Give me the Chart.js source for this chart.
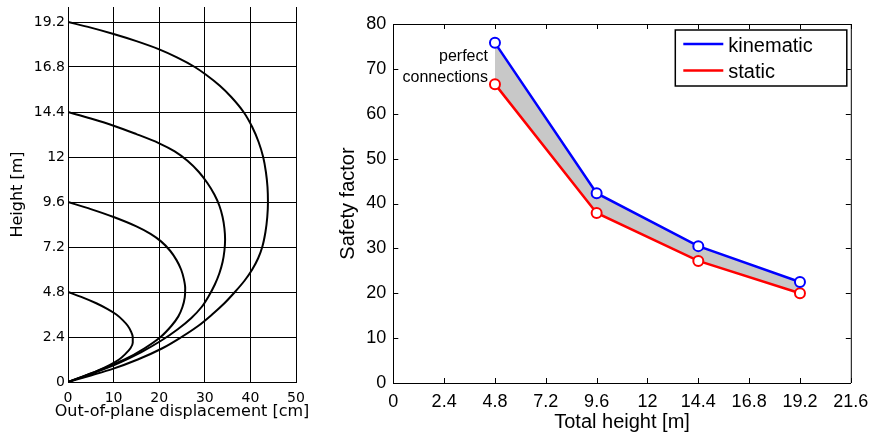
<!DOCTYPE html>
<html><head><meta charset="utf-8">
<script src="https://cdn.jsdelivr.net/npm/chart.js@4.4.0/dist/chart.umd.min.js"></script>
<style>
html,body{margin:0;padding:0;background:#fff;width:877px;height:439px;overflow:hidden}
#cl{position:absolute;left:0;top:0}
#cr{position:absolute;left:330px;top:0}
</style></head><body>
<canvas id="cl" width="330" height="439"></canvas>
<canvas id="cr" width="547" height="439"></canvas>
<script>
// ---------- Left panel data: deflection shapes (h = height m, x = out-of-plane displacement cm)
const curve48_h  = [4.8, 4.5, 4.2, 3.9, 3.6, 3.3, 3.0, 2.7, 2.4, 2.1, 1.8, 1.5, 1.2, 0.9, 0.6, 0.3, 0];
const curve48_x  = [0, 3.3, 6.2, 8.6, 10.6, 12.0, 13.1, 13.8, 14.2, 14.2, 13.7, 12.6, 11.2, 9.1, 6.5, 3.4, 0];
const curve96_h  = [9.6, 9.22, 8.8, 8.3, 7.9, 7.5, 7.0, 6.5, 6.0, 5.5, 5.0, 4.5, 4.0, 3.5, 3.0, 2.4, 1.8, 1.2, 0.6, 0];
const curve96_x  = [0, 5, 10, 15, 18.1, 20.4, 22.4, 23.8, 24.8, 25.4, 25.7, 25.6, 25.1, 24.2, 22.7, 20.3, 16.8, 12.4, 6.6, 0];
const curve144_h = [14.4, 14.05, 13.67, 13.22, 12.73, 12.3, 11.8, 11.2, 10.6, 10.0, 9.4, 8.8, 8.2, 7.6, 7.0, 6.4, 5.8, 5.2, 4.6, 4.0, 3.4, 2.8, 2.2, 1.6, 1.0, 0.5, 0];
const curve144_x = [0, 5, 10, 15, 20, 23.4, 26.2, 28.7, 30.6, 32.1, 33.2, 33.9, 34.3, 34.45, 34.3, 33.9, 33.2, 32.2, 30.9, 29.3, 27.0, 24.0, 20.4, 16.1, 11.0, 5.8, 0];
const curve192_h = [19.2, 18.9, 18.56, 18.18, 17.74, 17.3, 16.8, 16.4, 15.8, 15.2, 14.4, 13.6, 12.8, 12.0, 11.2, 10.4, 9.6, 8.8, 8.0, 7.2, 6.6, 6.0, 5.4, 4.8, 4.2, 3.6, 3.0, 2.4, 1.8, 1.2, 0.7, 0.35, 0];
const curve192_x = [0, 5, 10, 15, 20, 24, 27.8, 30.2, 33.3, 35.8, 38.5, 40.4, 41.8, 42.8, 43.4, 43.75, 43.85, 43.7, 43.3, 42.6, 41.7, 40.4, 38.7, 36.6, 34.3, 31.6, 28.6, 24.9, 20.7, 15.3, 9.8, 5, 0];
const leftXTicks = [0, 10, 20, 30, 40, 50];
const leftYTicks = [0, 2.4, 4.8, 7.2, 9.6, 12, 14.4, 16.8, 19.2];
const leftYLabels = ['0', '2.4', '4.8', '7.2', '9.6', '12', '14.4', '16.8', '19.2'];
const leftXTitle = 'Out-of-plane displacement [cm]';
const leftYTitle = 'Height [m]';

// ---------- Right panel data
const totalHeight = [4.8, 9.6, 14.4, 19.2];
const kinematic   = [75.8, 42.3, 30.5, 22.5];
const staticSF    = [66.6, 37.9, 27.2, 20.0];
const rightXTicks  = [0, 2.4, 4.8, 7.2, 9.6, 12, 14.4, 16.8, 19.2, 21.6];
const rightXLabels = ['0', '2.4', '4.8', '7.2', '9.6', '12', '14.4', '16.8', '19.2', '21.6'];
const rightYTicks  = [0, 10, 20, 30, 40, 50, 60, 70, 80];
const annotationLines = ['perfect', 'connections'];

const toPts = (xs, ys) => xs.map((v, i) => ({x: v, y: ys[i]}));
const DV = '"DejaVu Sans", sans-serif';
const LS = '"Liberation Sans", Arial, sans-serif';

const leftCurves = [[curve48_x, curve48_h], [curve96_x, curve96_h], [curve144_x, curve144_h], [curve192_x, curve192_h]];

const leftTitlePlugin = {
  id: 'leftTitle',
  afterDraw(chart) {
    const {ctx, chartArea: a} = chart;
    ctx.save();
    ctx.font = '16px ' + DV;
    ctx.fillStyle = '#000';
    ctx.textAlign = 'center';
    ctx.textBaseline = 'middle';
    ctx.fillText(leftXTitle, (a.left + a.right) / 2, 412);
    ctx.restore();
  }
};

new Chart(document.getElementById('cl'), {
  type: 'line',
  data: {
    datasets: leftCurves.map(c => ({
      data: toPts(c[0], c[1]), borderColor: '#000', borderWidth: 2,
      pointRadius: 0, cubicInterpolationMode: 'monotone', fill: false
    }))
  },
  options: {
    indexAxis: 'y',
    responsive: false, animation: false, events: [],
    layout: {padding: {left: 0, right: 34, top: 7, bottom: 0}},
    plugins: {legend: {display: false}, tooltip: {enabled: false}},
    scales: {
      x: {
        type: 'linear', position: 'bottom', min: 0, max: 50,
        afterBuildTicks: s => { s.ticks = leftXTicks.map(v => ({value: v})); },
        afterFit: s => { s.height = 57; s.paddingLeft = 0; s.paddingRight = 0; },
        grid: {color: '#000', lineWidth: 1, drawTicks: false},
        border: {color: '#000', width: 1},
        ticks: {color: '#000', padding: 8, font: {family: DV, size: 14}, maxRotation: 0, autoSkip: false,
                callback: v => String(v)},
        title: {display: false}
      },
      y: {
        type: 'linear', position: 'left', min: 0, max: 20, reverse: false,
        afterBuildTicks: s => { s.ticks = leftYTicks.map(v => ({value: v})); },
        afterFit: s => { s.width = 68; s.paddingTop = 0; s.paddingBottom = 0; },
        grid: {color: '#000', lineWidth: 1, drawTicks: false},
        border: {color: '#000', width: 1},
        ticks: {color: '#000', padding: 3, font: {family: DV, size: 14}, autoSkip: false,
                callback: (v, i) => leftYLabels[i]},
        title: {display: true, text: leftYTitle, color: '#000',
                font: {family: DV, size: 16}, padding: {top: 8.4, bottom: 0}}
      }
    }
  },
  plugins: [leftTitlePlugin]
});

const framePlugin = {
  id: 'frame',
  afterDraw(chart) {
    const {ctx, chartArea: a, scales: {x, y}} = chart;
    ctx.save();
    ctx.strokeStyle = '#000';
    ctx.lineWidth = 1;
    ctx.beginPath();
    ctx.moveTo(a.left, a.top + 0.5); ctx.lineTo(a.right + 0.5, a.top + 0.5); ctx.lineTo(a.right + 0.5, a.bottom);
    const tl = 5;
    rightXTicks.forEach(v => {
      const px = Math.round(x.getPixelForValue(v)) + 0.5;
      ctx.moveTo(px, a.bottom); ctx.lineTo(px, a.bottom - tl);
      ctx.moveTo(px, a.top); ctx.lineTo(px, a.top + tl);
    });
    rightYTicks.forEach(v => {
      const py = Math.round(y.getPixelForValue(v)) + 0.5;
      ctx.moveTo(a.left, py); ctx.lineTo(a.left + tl, py);
      ctx.moveTo(a.right, py); ctx.lineTo(a.right - tl, py);
    });
    ctx.stroke();

    // legend box
    const bx0 = a.left + 282, bx1 = a.right - 4, by0 = a.top + 6, by1 = a.top + 62;
    ctx.fillStyle = '#fff';
    ctx.fillRect(bx0, by0, bx1 - bx0, by1 - by0);
    ctx.strokeStyle = '#000';
    ctx.lineWidth = 1.5;
    ctx.strokeRect(bx0, by0, bx1 - bx0, by1 - by0);
    ctx.font = '20px ' + LS;
    ctx.textBaseline = 'middle';
    ctx.textAlign = 'left';
    chart.data.datasets.forEach((ds, i) => {
      const ly = by0 + 14 + i * 26.5;
      ctx.strokeStyle = ds.borderColor;
      ctx.lineWidth = 2.5;
      ctx.beginPath(); ctx.moveTo(bx0 + 8, ly); ctx.lineTo(bx0 + 48, ly); ctx.stroke();
      ctx.fillStyle = '#000';
      ctx.fillText(ds.label, bx0 + 53, ly + 2);
    });

    // annotation
    const ax = x.getPixelForValue(totalHeight[0]) - 7;
    ctx.font = '16px ' + LS;
    ctx.textAlign = 'right';
    ctx.fillStyle = '#000';
    ctx.fillText(annotationLines[0], ax, a.top + 33);
    ctx.fillText(annotationLines[1], ax, a.top + 54);
    ctx.restore();
  }
};

new Chart(document.getElementById('cr'), {
  type: 'line',
  data: {
    datasets: [
      {label: 'kinematic', data: toPts(totalHeight, kinematic), borderColor: '#0000ff', borderWidth: 2.5,
       pointRadius: 5, pointBorderWidth: 2, pointBackgroundColor: '#fff', pointBorderColor: '#0000ff',
       fill: {target: 1}, backgroundColor: '#c8c8c8', tension: 0},
      {label: 'static', data: toPts(totalHeight, staticSF), borderColor: '#ff0000', borderWidth: 2.5,
       pointRadius: 5, pointBorderWidth: 2, pointBackgroundColor: '#fff', pointBorderColor: '#ff0000',
       fill: false, tension: 0}
    ]
  },
  options: {
    responsive: false, animation: false, events: [],
    layout: {padding: {left: 0, right: 26.2, top: 24, bottom: 0}},
    plugins: {legend: {display: false}, tooltip: {enabled: false}, filler: {drawTime: 'beforeDatasetsDraw'}},
    scales: {
      x: {
        type: 'linear', min: 0, max: 21.6,
        afterBuildTicks: s => { s.ticks = rightXTicks.map(v => ({value: v})); },
        afterFit: s => { s.height = 56; s.paddingLeft = 0; s.paddingRight = 0; },
        grid: {display: false, drawTicks: false},
        border: {color: '#000', width: 1},
        ticks: {color: '#000', padding: 8, font: {family: LS, size: 18}, maxRotation: 0, autoSkip: false,
                callback: (v, i) => rightXLabels[i]},
        title: {display: true, text: 'Total height [m]', color: '#000',
                font: {family: LS, size: 20}, padding: {top: 0, bottom: 5}}
      },
      y: {
        type: 'linear', min: 0, max: 80,
        afterBuildTicks: s => { s.ticks = rightYTicks.map(v => ({value: v})); },
        afterFit: s => { s.width = 63.3; s.paddingTop = 0; s.paddingBottom = 0; },
        grid: {display: false, drawTicks: false},
        border: {color: '#000', width: 1},
        ticks: {color: '#000', padding: 7, font: {family: LS, size: 18}, autoSkip: false,
                callback: v => String(v)},
        title: {display: true, text: 'Safety factor', color: '#000',
                font: {family: LS, size: 20}, padding: {top: 6, bottom: 0}}
      }
    }
  },
  plugins: [framePlugin]
});
</script></body></html>
